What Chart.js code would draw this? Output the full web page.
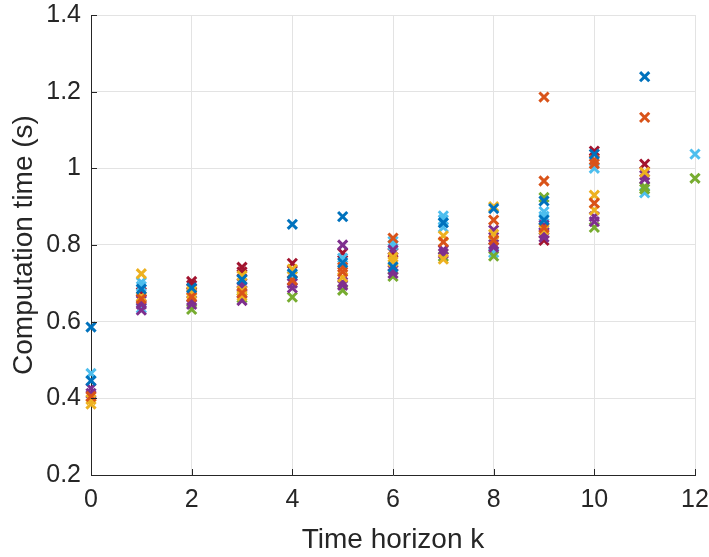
<!DOCTYPE html>
<html>
<head>
<meta charset="utf-8">
<script src="https://cdn.jsdelivr.net/npm/chart.js@4/dist/chart.umd.min.js"></script>
<style>
  html, body { margin: 0; padding: 0; background: #fff; }
  #wrap { width: 709px; height: 557px; }
</style>
</head>
<body>
<div id="wrap"><canvas id="myChart" width="709" height="557"></canvas></div>
<script>
// [k, time] pairs, one list per MATLAB colour
const blue = [[0,0.586],[0,0.446],[1,0.685],[2,0.688],[3,0.71],[4,0.854],[4,0.725],[5,0.874],[5,0.754],
  [6,0.743],[7,0.858],[8,0.895],[9,0.915],[9,0.865],[10,1.037],[11,1.239]];
const orange = [[0,0.405],[1,0.66],[2,0.665],[3,0.675],[4,0.708],[5,0.742],[5,0.73],[6,0.818],[7,0.808],
  [8,0.865],[8,0.813],[9,1.186],[9,0.967],[9,0.845],[10,1.022],[10,1.012],[10,0.909],[11,1.133]];
const yellow = [[0,0.397],[0,0.385],[1,0.725],[1,0.665],[2,0.68],[2,0.672],[3,0.72],[3,0.68],[3,0.668],
  [4,0.737],[5,0.716],[6,0.768],[6,0.757],[7,0.824],[7,0.763],[8,0.9],[8,0.828],[9,0.84],[10,0.93],[10,0.891],[11,0.99]];
const purple = [[0,0.426],[0,0.413],[1,0.655],[1,0.645],[1,0.63],[2,0.655],[2,0.645],[3,0.7],[3,0.69],[3,0.655],
  [4,0.7],[4,0.688],[5,0.8],[5,0.703],[5,0.695],[6,0.787],[6,0.735],[6,0.726],[7,0.787],[7,0.778],
  [8,0.839],[8,0.802],[8,0.794],[9,0.852],[9,0.83],[9,0.82],[10,0.874],[10,0.861],[11,0.982],[11,0.972]];
const green = [[2,0.632],[3,0.662],[4,0.664],[5,0.682],[6,0.718],[7,0.77],[8,0.771],[9,0.924],[10,0.846],
  [11,0.952],[11,0.946],[12,0.974]];
const lightblue = [[0,0.465],[1,0.703],[1,0.692],[1,0.635],[4,0.72],[5,0.766],[6,0.81],[6,0.8],[7,0.876],
  [7,0.866],[7,0.846],[8,0.78],[9,0.887],[9,0.875],[10,1.0],[11,0.936],[12,1.037]];
const darkred = [[1,0.677],[2,0.705],[2,0.695],[3,0.742],[3,0.73],[4,0.752],[5,0.779],[6,0.78],[9,0.812],
  [10,1.045],[11,1.011]];

const seriesList = [blue, orange, yellow, purple, green, lightblue, darkred];
const seriesColors = ['#0072BD', '#D95319', '#EDB120', '#7E2F8E', '#77AC30', '#4DBEEE', '#A2142F'];
const xTicks = [0, 2, 4, 6, 8, 10, 12];
const yTicks = [0.2, 0.4, 0.6, 0.8, 1, 1.2, 1.4];

const axisColor = '#262626';
const gridColor = '#e3e3e3';
const fontFamily = 'Liberation Sans, Arial, sans-serif';

const datasets = seriesList.map((s, i) => ({
  label: 'run ' + (i + 1),
  data: s.map(p => ({ x: p[0], y: p[1] })),
  pointStyle: 'crossRot',
  pointRadius: 6.5,
  pointHoverRadius: 6.5,
  pointBorderWidth: 3,
  borderColor: seriesColors[i],
  backgroundColor: seriesColors[i],
  showLine: false,
  clip: false
}));

// MATLAB style ticks pointing into the plot
const inwardTicks = {
  id: 'inwardTicks',
  afterDraw(chart) {
    const ctx = chart.ctx, a = chart.chartArea;
    const xs = chart.scales.x, ys = chart.scales.y;
    ctx.save();
    ctx.strokeStyle = axisColor;
    ctx.lineWidth = 1;
    ctx.beginPath();
    xTicks.forEach(v => {
      const px = Math.round(xs.getPixelForValue(v)) + 0.5;
      ctx.moveTo(px, a.bottom);
      ctx.lineTo(px, a.bottom - 6);
    });
    yTicks.forEach(v => {
      const py = Math.round(ys.getPixelForValue(v)) + 0.5;
      ctx.moveTo(a.left, py);
      ctx.lineTo(a.left + 6, py);
    });
    ctx.stroke();
    ctx.restore();
  }
};

const config = {
  type: 'scatter',
  data: { datasets: datasets },
  options: {
    responsive: false,
    animation: false,
    layout: { padding: { top: 15, right: 14, left: 0, bottom: 0 } },
    plugins: {
      legend: { display: false },
      tooltip: { enabled: false }
    },
    scales: {
      x: {
        type: 'linear',
        min: 0, max: 12,
        afterBuildTicks: s => { s.ticks = xTicks.map(v => ({ value: v })); },
        afterFit: s => { s.height = 82; s.paddingLeft = 0; s.paddingRight = 0; },
        grid: { color: gridColor, drawTicks: false },
        border: { color: axisColor, width: 1 },
        ticks: {
          color: axisColor, padding: 10,
          font: { family: fontFamily, size: 25 }
        },
        title: {
          display: true, text: 'Time horizon k', color: axisColor,
          padding: { top: 2, bottom: 0 },
          font: { family: fontFamily, size: 28 }
        }
      },
      y: {
        type: 'linear',
        min: 0.2, max: 1.4,
        afterBuildTicks: s => { s.ticks = yTicks.map(v => ({ value: v })); },
        afterFit: s => { s.width = 91; s.paddingTop = 0; s.paddingBottom = 0; },
        grid: { color: gridColor, drawTicks: false },
        border: { color: axisColor, width: 1 },
        ticks: {
          color: axisColor, padding: 10,
          font: { family: fontFamily, size: 25 },
          callback: v => String(Math.round(v * 10) / 10)
        },
        title: {
          display: true, text: 'Computation time (s)', color: axisColor,
          padding: { top: 7, bottom: 0 },
          font: { family: fontFamily, size: 28 }
        }
      }
    }
  },
  plugins: [inwardTicks]
};

const myChart = new Chart(document.getElementById('myChart'), config);
</script>
</body>
</html>
